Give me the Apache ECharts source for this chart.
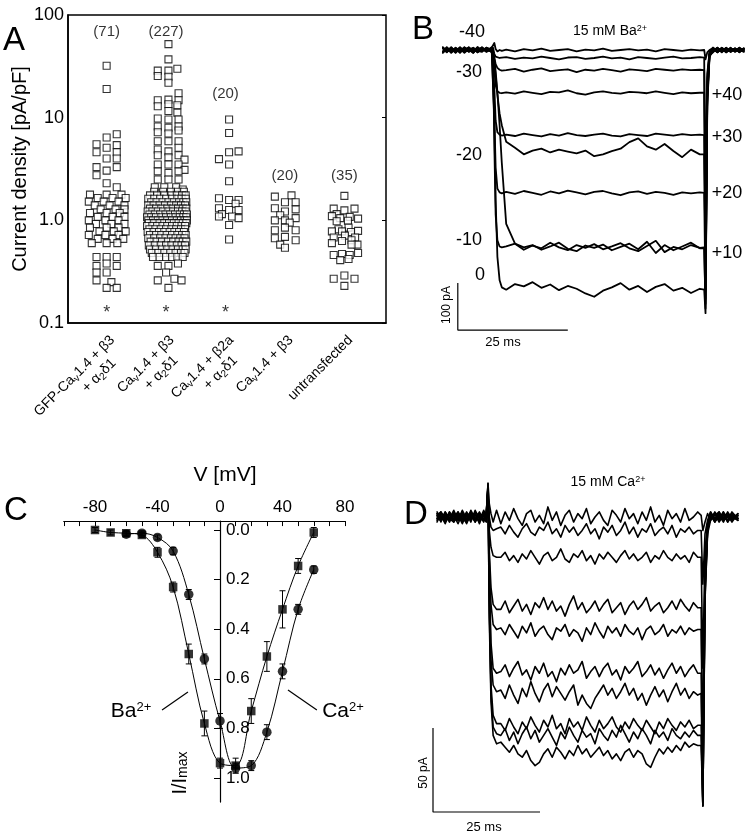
<!DOCTYPE html>
<html><head><meta charset="utf-8">
<script src="https://cdn.jsdelivr.net/npm/echarts@6/dist/echarts.min.js"></script>
<style>html,body{margin:0;padding:0;background:#fff}#c{width:751px;height:836px}</style>
</head><body><div id="c"></div>
<script>
// ---------- Panel A data ----------
const categoriesA = [
  'GFP-Ca{s|v}1.4 + β3\n+ α{s|2}δ1    ',
  'Ca{s|v}1.4 + β3\n+ α{s|2}δ1   ',
  'Ca{s|v}1.4 + β2a\n+ α{s|2}δ1   ',
  'Ca{s|v}1.4 + β3',
  'untransfected'
];
const countLabels = ['(71)', '(227)', '(20)', '(20)', '(35)'];
const countLabelY = [68, 68, 17, 2.7, 2.7];
const starGroups = [0, 1, 2];
const starY = 0.125;
const yTicksA = [0.1, 1, 10, 100];

// rows: [current density, [horizontal offsets within group]]
const group1Rows = [
  [32,[0]],[19,[0]],[6.9,[0.17]],[6.4,[0]],[5.5,[-0.17]],[5.4,[0.17]],[5.1,[0]],[4.6,[-0.17,0.17]],
  [4.0,[0,0.17]],[3.3,[-0.17,0.17]],[3.05,[0]],[2.75,[-0.17]],[2.3,[0]],[2.1,[0.17]],
  [1.78,[-0.28,0,0.25]],[1.65,[-0.15,0.1,0.32]],[1.52,[-0.3,-0.05,0.2]],[1.4,[-0.2,0.05,0.3]],
  [1.28,[-0.1,0.15,0.3]],[1.18,[-0.28,0,0.22]],[1.08,[-0.15,0.1,0.3]],[1.0,[-0.3,-0.02,0.2]],
  [0.92,[-0.18,0.08,0.3]],[0.85,[-0.28,0,0.2]],[0.78,[-0.12,0.12,0.32]],[0.72,[-0.3,-0.02,0.2]],
  [0.66,[-0.15,0.1,0.28]],[0.6,[-0.25,0,0.18]],
  [0.44,[-0.17,0,0.17]],[0.38,[0]],[0.36,[-0.17,0.17]],[0.31,[-0.17,0]],[0.26,[-0.17]],[0.25,[0.08]],[0.22,[0,0.17]]
];
const group2Rows = [
  [52,[0.04]],[37,[0.04]],[30,[0.19]],[28.7,[-0.14,0.04]],[25.5,[-0.14]],[25,[0.04]],[21.9,[0.04]],[17.3,[0.21]],
  [15,[0.04]],[14.8,[-0.14,0.21]],[13.5,[0.04]],[13.2,[0.19]],[12.9,[-0.14]],[11.6,[0.04]],[11.2,[0.19]],
  [9.8,[-0.14]],[9.6,[0.04,0.21]],[8.2,[-0.14,0.21]],[8.0,[0.04]],[7.5,[0.21]],[7.2,[-0.14]],[7.0,[0.04]],
  [5.9,[-0.14,0.04,0.21]],[5.1,[0.21]],[4.9,[-0.14]],[4.7,[0.04]],[4.3,[-0.14,0.21]],[4.1,[0.04]],[3.9,[0.31]],
  [3.5,[-0.14,0.04,0.21]],[3.1,[0.31]],[3.0,[-0.14,0.21]],[2.9,[0.04]],[2.5,[-0.14,0.04,0.21]],
  [2.1,[-0.19,-0.03,0.17]],[2.0,[0.28]],
  [1.9,[-0.2,-0.05,0.08,0.2,0.3]],
  [1.75,[-0.27,-0.15,-0.03,0.09,0.18,0.27,0.33]],
  [1.62,[-0.3,-0.2,-0.1,0.0,0.1,0.19,0.26,0.33]],
  [1.5,[-0.25,-0.16,-0.06,0.04,0.13,0.22,0.29,0.34]],
  [1.4,[-0.3,-0.21,-0.11,-0.02,0.08,0.17,0.25,0.32]],
  [1.3,[-0.27,-0.17,-0.08,0.02,0.11,0.2,0.28,0.34]],
  [1.22,[-0.31,-0.23,-0.14,-0.05,0.04,0.12,0.2,0.27,0.33]],
  [1.14,[-0.28,-0.19,-0.1,-0.01,0.07,0.15,0.23,0.3,0.35]],
  [1.07,[-0.32,-0.25,-0.17,-0.08,0.0,0.08,0.16,0.23,0.29,0.34]],
  [1.0,[-0.3,-0.22,-0.14,-0.06,0.02,0.1,0.18,0.25,0.31,0.35]],
  [0.94,[-0.29,-0.2,-0.11,-0.03,0.05,0.13,0.21,0.28,0.34]],
  [0.88,[-0.32,-0.23,-0.15,-0.06,0.02,0.1,0.18,0.26,0.32]],
  [0.82,[-0.28,-0.18,-0.09,0.0,0.09,0.17,0.25,0.32]],
  [0.77,[-0.31,-0.21,-0.12,-0.03,0.06,0.14,0.22,0.3]],
  [0.72,[-0.27,-0.17,-0.08,0.01,0.1,0.19,0.27,0.33]],
  [0.67,[-0.3,-0.2,-0.1,-0.01,0.08,0.16,0.24,0.31]],
  [0.62,[-0.26,-0.16,-0.07,0.03,0.12,0.21,0.28,0.34]],
  [0.57,[-0.29,-0.19,-0.09,0.0,0.09,0.18,0.26,0.32]],
  [0.52,[-0.27,-0.17,-0.07,0.02,0.11,0.2,0.28,0.33]],
  [0.48,[-0.24,-0.13,-0.03,0.07,0.16,0.25,0.31]],
  [0.44,[-0.22,-0.11,0.0,0.1,0.19,0.28]],
  [0.38,[0.2]],[0.36,[-0.14,0.04]],[0.31,[0]],[0.27,[0.14]],[0.26,[-0.14,0.26]],[0.22,[0.04]]
];
const group3Rows = [
  [9.6,[0.06]],[7.1,[0.06]],[4.7,[0.22]],[4.6,[0.06]],[3.95,[-0.11]],[3.5,[0.06]],[2.4,[0.06]],
  [1.64,[-0.11]],[1.58,[0.06,0.22]],[1.45,[0.17]],[1.31,[-0.11]],[1.26,[0.06,0.22]],[1.15,[-0.06]],
  [1.09,[-0.11,0.11]],[1.05,[0.22]],[0.9,[0.06]],[0.65,[0.06]]
];
const group4Rows = [
  [1.75,[0.11]],[1.7,[-0.17]],[1.5,[0,0.18]],[1.31,[-0.17]],[1.28,[0.18]],[1.22,[0]],[1.12,[-0.08]],
  [1.05,[0.18]],[1.0,[-0.17,0]],[0.95,[0.08]],[0.85,[0]],[0.8,[-0.17,0.18]],[0.69,[0]],[0.67,[-0.17]],
  [0.64,[0.18]],[0.58,[-0.08]],[0.54,[0]]
];
const group5Rows = [
  [1.73,[0]],[1.3,[-0.18,0.17]],[1.25,[0]],[1.15,[-0.13]],[1.1,[-0.21]],[1.08,[0.09]],[1.05,[-0.07]],
  [1.04,[0.23]],[0.99,[0.06]],[0.98,[-0.13]],[0.85,[0.07]],[0.82,[-0.1]],[0.79,[0.23]],[0.78,[-0.21,-0.04]],
  [0.77,[0.11]],[0.71,[0.01]],[0.68,[-0.18,0.18]],[0.64,[0.12]],[0.63,[-0.04]],[0.6,[-0.21]],
  [0.58,[0.22,0.12]],[0.48,[0.23]],[0.47,[-0.04]],[0.46,[-0.18,0.09]],[0.42,[0.07]],[0.41,[-0.07]],
  [0.29,[0]],[0.27,[-0.18,0.17]],[0.23,[0]]
];

// ---------- Panel B data (15 mM Ba2+), time in ms, current in pA ----------
const tB = [-11.4,-10.5,-9.5,-8.5,-7.5,-6.5,-5.5,-4.5,-3.5,-2.5,-1.5,-0.3, 0,0.3,0.6,1,1.5,2,
  3,5,7,9,11,13,15,17,19,21,23,25,27,29,31,33,35,37,39,41,43,45,47,
  48,48.3,48.7,49.2, 50,51,52,53,54,55,56,57];
const traceB_m40 = [5,-4,3,-6,4,-1,-3,5,-2,4,-3,5, 8,15,2,-3,0,-2, 1,-3,2,-1,3,-2,0,2,-3,1,-1,3,-2,0,2,-1,1,-3,2,0,-2,1,-1, 0,-20,-5,0, 4,-5,3,-4,2,-3,5,-1];
const traceB_p50 = [-4,6,-3,4,-5,2,5,-3,6,-2,3,-4, 5,-8,-14,-16,-17,-16, -15,-19,-16,-18,-14,-17,-20,-16,-15,-19,-17,-14,-18,-16,-20,-15,-17,-19,-16,-14,-18,-17,-15, -16,-420,-60,-5, 5,-3,4,-5,1,3,-4,2];
const traceB_m30 = [3,-5,5,-2,6,-4,1,-6,3,-1,5,-2, 0,-15,-30,-38,-42,-44, -43,-40,-46,-42,-39,-45,-43,-41,-47,-42,-44,-40,-43,-46,-41,-43,-45,-40,-42,-44,-41,-43,-42, -43,-300,-50,-5, -3,5,-2,4,-4,2,-1,3];
const traceB_p40 = [-5,3,-4,5,-2,6,-3,2,-5,4,-1,3, 0,-40,-75,-88,-91,-92, -90,-93,-88,-91,-94,-89,-90,-86,-92,-95,-90,-88,-91,-93,-89,-90,-92,-88,-91,-94,-90,-92,-91, -91,-480,-70,-8, 4,-4,2,-5,3,-2,5,-3];
const traceB_p30 = [4,-3,6,-4,3,-6,2,4,-2,-4,5,1, 0,-80,-150,-175,-180,-182, -180,-183,-178,-181,-184,-179,-182,-177,-181,-183,-180,-178,-182,-184,-179,-181,-183,-178,-180,-182,-179,-181,-180, -181,-510,-90,-10, -4,3,-5,4,-2,1,-3,4];
const traceB_m20 = [-6,2,-5,4,-3,5,-1,-4,6,-2,3,-5, 0,-25,-55,-95,-135,-160, -195,-208,-222,-214,-210,-218,-212,-216,-220,-214,-226,-222,-215,-210,-196,-188,-205,-212,-200,-215,-228,-212,-222, -222,-450,-80,-10, 5,-2,4,-3,5,-4,2,-1];
const traceB_p20 = [5,-2,4,-5,2,-4,6,-3,1,5,-4,2, 0,-140,-250,-295,-303,-305, -302,-306,-300,-304,-308,-301,-305,-299,-303,-307,-302,-300,-305,-309,-303,-301,-306,-302,-304,-308,-303,-305,-303, -304,-530,-100,-12, -5,4,-3,5,-4,3,-2,1];
const traceB_p10 = [-3,5,-6,2,-4,4,-2,3,-5,1,-3,6, 0,-200,-350,-405,-418,-420, -418,-412,-425,-416,-422,-410,-420,-426,-415,-421,-413,-424,-418,-411,-422,-428,-417,-406,-430,-419,-424,-415,-421, -420,-550,-110,-15, 3,-5,2,-2,4,-3,1,-4];
const traceB_m10 = [6,-3,2,-4,5,-2,3,-6,4,-1,2,-3, 0,-20,-45,-90,-160,-240, -370,-412,-420,-415,-425,-418,-410,-423,-428,-416,-421,-414,-426,-419,-412,-424,-408,-432,-415,-426,-418,-410,-422, -422,-540,-100,-12, -2,5,-4,3,-3,4,-5,2];
const traceB_0 = [-4,4,-2,3,-6,5,-4,1,-3,6,-2,0, 0,-150,-320,-440,-490,-505, -510,-498,-503,-494,-506,-499,-511,-502,-508,-518,-525,-512,-505,-496,-510,-502,-515,-504,-498,-512,-506,-517,-508, -510,-560,-120,-15, 3,-4,5,-1,-3,2,-4,3];
const scaleBarB = {t: -8, i: -596, dt: 25, di: 100};

// ---------- Panel C data ----------
const baV = [-80,-70,-60,-50,-40,-30,-20,-10,0,10,20,30,40,50,60];
const baMean = [0.0,0.01,0.013,0.02,0.09,0.23,0.50,0.78,0.94,0.95,0.73,0.51,0.32,0.145,0.01];
const baErr = [0.01,0.01,0.01,0.01,0.02,0.02,0.04,0.05,0.02,0.03,0.05,0.06,0.075,0.03,0.02];
const caV = [-60,-50,-40,-30,-20,-10,0,10,20,30,40,50,60];
const caMean = [0.017,0.013,0.03,0.085,0.26,0.52,0.77,0.96,0.95,0.815,0.57,0.32,0.16];
const caErr = [0.01,0.01,0.01,0.015,0.02,0.02,0.03,0.02,0.02,0.03,0.03,0.02,0.015];
const xTicksC = [-100,-90,-80,-70,-60,-50,-40,-30,-20,-10,0,10,20,30,40,50,60,70,80];
const xLabelsC = [-80,-40,0,40,80];
const yTicksC = [0,0.2,0.4,0.6,0.8,1.0];
const baPointer = [[-37.1,0.726],[-20.5,0.653]];
const caPointer = [[43.5,0.645],[62,0.726]];

// ---------- Panel D data (15 mM Ca2+) ----------
const tD = [-11.9,-11,-10,-9,-8,-7,-6,-5,-4,-3,-2,-1,-0.4, 0,0.3,0.7,1.2,2,
  3,4,5,6,7,8,9,10,11,12,13,14,15,16,17,18,19,20,21,22,23,24,25,26,27,28,29,30,31,32,33,34,35,36,37,38,39,40,41,42,43,44,45,46,47,48,49,
  49.8,50.2,50.7,51.3,52,53,54,55,56,57,58.4];
const traceD0 = [2,-3,3,-1,4,-2,1,-4,2,-1,3,-2,1, 20,8,2,-3,4,
  -4,3,-2,5,-1,-5,2,4,-3,1,-4,6,-2,3,-5,1,4,-3,2,-1,5,-4,0,3,-2,-5,4,1,-3,5,-1,2,-4,3,-2,6,-3,1,-5,4,-1,2,-3,5,-2,0,3,
  1,-8,-3,2,-2,3,-1,2,-3,1,-1];
const traceD1 = [-1,2,-2,3,-3,1,-1,2,-3,4,-1,2,-2, 18,0,-6,-8,-7,
  -6,-10,-5,-9,-12,-7,-4,-9,-11,-6,-8,-3,-10,-7,-12,-5,-9,-6,-11,-8,-4,-10,-7,-13,-6,-9,-5,-11,-8,-3,-10,-6,-12,-7,-9,-4,-11,-8,-6,-10,-5,-12,-7,-9,-6,-10,-8,
  -8,-40,-10,-2,3,-2,1,-3,2,-1,1];
const traceD2 = [3,-1,1,-3,2,-2,4,-1,1,-3,2,0,3, 15,-8,-18,-23,-24,
  -24,-21,-26,-23,-27,-22,-25,-20,-24,-28,-23,-21,-26,-24,-19,-25,-27,-22,-24,-20,-26,-23,-28,-22,-25,-21,-24,-27,-23,-20,-25,-22,-26,-24,-21,-27,-23,-25,-20,-24,-26,-22,-25,-23,-27,-21,-24,
  -24,-90,-20,-4,2,-1,3,-2,1,-3,2];
const traceD3 = [-2,1,-4,2,0,3,-3,1,-1,2,-4,3,-1, 18,-20,-42,-52,-55,
  -55,-50,-57,-53,-49,-56,-52,-58,-51,-54,-48,-55,-50,-56,-53,-59,-52,-47,-55,-51,-57,-54,-50,-56,-52,-49,-57,-54,-51,-58,-53,-50,-55,-52,-48,-56,-53,-51,-57,-54,-50,-55,-49,-53,-56,-51,-54,
  -54,-140,-30,-5,1,-3,2,0,-2,3,-1];
const traceD4 = [1,-2,2,-1,-3,2,-2,3,-1,1,-2,4,0, 16,-25,-52,-64,-67,
  -66,-70,-64,-68,-72,-65,-69,-63,-71,-67,-65,-70,-73,-66,-68,-64,-71,-67,-69,-74,-66,-70,-63,-68,-72,-65,-69,-66,-71,-64,-68,-70,-66,-73,-67,-65,-70,-68,-64,-71,-67,-69,-65,-70,-66,-68,-67,
  -67,-150,-35,-6,2,-2,-1,3,-2,1,0];
const traceD5 = [0,3,-1,1,-2,-1,3,-3,2,-2,1,-3,2, 20,-35,-75,-90,-93,
  -92,-88,-95,-90,-86,-94,-91,-97,-89,-93,-87,-95,-92,-98,-90,-94,-88,-93,-91,-86,-96,-92,-89,-95,-90,-87,-94,-91,-97,-89,-93,-90,-86,-95,-92,-88,-94,-90,-96,-91,-87,-93,-89,-95,-91,-88,-93,
  -93,-165,-40,-7,-1,2,-3,1,2,-2,1];
const traceD6 = [-3,2,0,-2,3,-1,1,-2,4,-1,-2,1,-1, 17,-40,-85,-100,-104,
  -103,-108,-100,-106,-111,-102,-107,-98,-105,-110,-103,-99,-107,-101,-105,-109,-104,-100,-112,-106,-111,-114,-108,-104,-100,-106,-102,-108,-104,-99,-106,-102,-109,-105,-112,-106,-101,-107,-103,-110,-104,-99,-106,-102,-108,-104,-106,
  -105,-170,-42,-8,3,-1,1,-2,3,-1,2];
const traceD7 = [2,0,-3,3,-1,1,-4,2,-2,3,0,-2,2, 19,-50,-100,-118,-123,
  -123,-127,-120,-125,-129,-122,-126,-119,-124,-128,-121,-125,-118,-126,-123,-129,-120,-125,-122,-127,-119,-124,-128,-121,-126,-123,-119,-125,-128,-122,-126,-120,-124,-127,-121,-125,-129,-122,-126,-120,-124,-127,-122,-125,-121,-126,-124,
  -124,-172,-45,-8,0,2,-2,3,-3,1,-2];
const traceD8 = [-1,-2,3,-2,1,-4,2,0,3,-3,2,-1,-3, 16,-55,-105,-125,-129,
  -130,-126,-133,-128,-135,-129,-125,-132,-127,-134,-130,-126,-131,-136,-128,-132,-125,-130,-134,-127,-131,-129,-135,-126,-130,-133,-127,-131,-124,-129,-134,-128,-132,-126,-130,-135,-127,-131,-128,-133,-126,-130,-132,-128,-131,-127,-130,
  -130,-172,-48,-9,2,-3,1,-1,2,0,-2];
const traceD9 = [1,3,-2,0,-2,3,-1,-3,1,2,-3,1,0, 18,-60,-110,-130,-135,
  -134,-137,-140,-136,-141,-143,-139,-145,-148,-146,-141,-138,-143,-137,-140,-144,-139,-142,-136,-141,-138,-143,-140,-137,-142,-139,-144,-141,-145,-140,-138,-143,-139,-141,-147,-149,-143,-138,-141,-137,-140,-136,-139,-134,-137,-135,-136,
  -136,-172,-50,-10,-2,1,3,-2,0,2,-1];
const scaleBarD = {t: -12.85, i: -175.6, dt: 25, di: 50};

// ---------- build ----------
const FONT = '"Liberation Sans", Arial, Helvetica, sans-serif';
const rowsToPoints = (rows, gi) => {
  const out = [];
  rows.forEach(([v, dxs]) => dxs.forEach(dx => out.push([gi + dx, v])));
  return out;
};
const groupsA = [group1Rows, group2Rows, group3Rows, group4Rows, group5Rows];
const tracesB = [traceB_m40, traceB_p50, traceB_m30, traceB_p40, traceB_p30, traceB_m20, traceB_p20, traceB_p10, traceB_m10, traceB_0];
const tracesD = [traceD0, traceD1, traceD2, traceD3, traceD4, traceD5, traceD6, traceD7, traceD8, traceD9];

const richFor = (size) => ({
  s: {fontSize: Math.round(size * 0.7), fontFamily: FONT, color: '#000', verticalAlign: 'bottom'},
  sup: {fontSize: Math.round(size * 0.62), fontFamily: FONT, color: '#000', verticalAlign: 'top'}
});
const txt = (text, x, y, size, extra) => Object.assign({
  type: 'text', x: x, y: y, silent: true,
  style: {text: text, fontSize: size, fontFamily: FONT, fill: '#000', align: 'center', verticalAlign: 'middle', rich: richFor(size)}
}, extra || {});

const traceSeries = (traces, times, xi, yi, w) => traces.map(vals => ({
  type: 'line', xAxisIndex: xi, yAxisIndex: yi, symbol: 'none', silent: true, clip: false,
  data: times.map((t, i) => [t, vals[i]]),
  lineStyle: {color: '#000', width: w, join: 'round', cap: 'round'}
}));
const scaleSeries = (sb, xi, yi) => ({
  type: 'line', xAxisIndex: xi, yAxisIndex: yi, symbol: 'none', silent: true, clip: false,
  data: [[sb.t, sb.i + sb.di], [sb.t, sb.i], [sb.t + sb.dt, sb.i]],
  lineStyle: {color: '#000', width: 1.2}
});
const errSeries = (vs, means, errs) => ({
  type: 'custom', xAxisIndex: 2, yAxisIndex: 3, silent: true, clip: false, z: 1,
  data: vs.map((v, i) => [v, means[i], errs[i]]),
  encode: {x: 0, y: 1},
  renderItem: function (params, api) {
    const x = api.value(0), y = api.value(1), e = api.value(2);
    const p1 = api.coord([x, y - e]), p2 = api.coord([x, y + e]);
    const w = 3, st = {stroke: '#000', lineWidth: 1};
    return {type: 'group', children: [
      {type: 'line', shape: {x1: p1[0], y1: p1[1], x2: p2[0], y2: p2[1]}, style: st},
      {type: 'line', shape: {x1: p1[0] - w, y1: p1[1], x2: p1[0] + w, y2: p1[1]}, style: st},
      {type: 'line', shape: {x1: p2[0] - w, y1: p2[1], x2: p2[0] + w, y2: p2[1]}, style: st}
    ]};
  }
});

const blackLine = {color: '#000', width: 1.5};
const gridC = {left: 63.75, top: 521.07, width: 281.25, height: 281};
const zeroOffsetC = -(0 - (-100)) / 180 * gridC.width; // y axis drawn at V = 0
const option = {
  animation: false,
  backgroundColor: '#fff',
  grid: [
    {left: 68, top: 15, width: 318, height: 308, show: true, borderColor: '#000', borderWidth: 1.5, outerBoundsMode: 'none'},
    {left: 440.2, top: 31.2, width: 308, height: 300.8, outerBoundsMode: 'none'},
    Object.assign({outerBoundsMode: 'none'}, gridC),
    {left: 428.08, top: 475, width: 316.72, height: 344.4, outerBoundsMode: 'none'}
  ],
  xAxis: [
    {gridIndex: 0, type: 'value', min: -0.65, max: 4.7,
      axisLine: {show: true, onZero: false, lineStyle: blackLine}, axisTick: {show: false}, splitLine: {show: false},
      axisLabel: {customValues: [0, 1, 2, 3, 4], formatter: v => categoriesA[Math.round(v)], rotate: 45, margin: 9,
        verticalAlign: 'top', fontSize: 14, fontFamily: FONT, color: '#000', lineHeight: 17, rich: richFor(14)}},
    {gridIndex: 1, type: 'value', min: -12, max: 58, show: false},
    {gridIndex: 2, type: 'value', min: -100, max: 80, position: 'top',
      axisLine: {show: true, onZero: false, lineStyle: {color: '#000', width: 1.2}},
      axisTick: {show: true, inside: true, length: 5, customValues: xTicksC, lineStyle: {color: '#000', width: 1}},
      axisLabel: {customValues: xLabelsC, margin: 5, fontSize: 17, fontFamily: FONT, color: '#000'},
      splitLine: {show: false}},
    {gridIndex: 3, type: 'value', min: -14, max: 60, show: false}
  ],
  yAxis: [
    {gridIndex: 0, type: 'log', logBase: 10, min: 0.1, max: 100,
      axisLine: {show: true, onZero: false, lineStyle: blackLine}, axisTick: {show: false}, splitLine: {show: false},
      axisLabel: {customValues: yTicksA, formatter: v => (v >= 10 ? String(Math.round(v)) : v.toFixed(1)), fontSize: 18, fontFamily: FONT, color: '#000', margin: 4},
      name: 'Current density [pA/pF]', nameLocation: 'middle', nameGap: 38,
      nameTextStyle: {fontSize: 20, fontFamily: FONT, color: '#000'}},
    {gridIndex: 0, type: 'log', logBase: 10, min: 0.1, max: 100, position: 'right',
      axisLine: {show: false, onZero: false}, axisLabel: {show: false}, splitLine: {show: false},
      axisTick: {show: true, inside: true, length: 4, lineStyle: {color: '#000'}}},
    {gridIndex: 1, type: 'value', min: -600, max: 40, show: false},
    {gridIndex: 2, type: 'value', inverse: true, min: -0.036, max: 1.097, position: 'left', offset: zeroOffsetC,
      axisLine: {show: true, onZero: false, lineStyle: {color: '#000', width: 1.2}},
      axisTick: {show: true, inside: false, length: 6, customValues: yTicksC, lineStyle: {color: '#000'}},
      axisLabel: {inside: true, margin: 6, customValues: yTicksC, formatter: v => v.toFixed(1), fontSize: 17, fontFamily: FONT, color: '#000'},
      splitLine: {show: false}},
    {gridIndex: 3, type: 'value', min: -180, max: 25, show: false}
  ],
  series: [].concat(
    groupsA.map((rows, gi) => ({
      type: 'scatter', xAxisIndex: 0, yAxisIndex: 0, symbol: 'rect', symbolSize: 7, silent: true,
      data: rowsToPoints(rows, gi),
      itemStyle: {color: '#fff', borderColor: '#000', borderWidth: 1.1}
    })),
    [{
      type: 'scatter', xAxisIndex: 0, yAxisIndex: 0, symbolSize: 1, silent: true,
      itemStyle: {color: 'rgba(0,0,0,0)'},
      data: countLabels.map((t, i) => ({value: [i, countLabelY[i]], label: {formatter: t}})),
      label: {show: true, position: 'inside', fontSize: 15, fontFamily: FONT, color: '#000'}
    }, {
      type: 'scatter', xAxisIndex: 0, yAxisIndex: 0, symbolSize: 1, silent: true,
      itemStyle: {color: 'rgba(0,0,0,0)'},
      data: starGroups.map(g => [g, starY]),
      label: {show: true, position: 'inside', formatter: '*', fontSize: 18, fontFamily: FONT, color: '#000'}
    }],
    traceSeries(tracesB, tB, 1, 2, 1.8),
    [scaleSeries(scaleBarB, 1, 2)],
    traceSeries(tracesD, tD, 3, 4, 1.6),
    [scaleSeries(scaleBarD, 3, 4)],
    [
      {type: 'line', xAxisIndex: 2, yAxisIndex: 3, symbol: 'none', smooth: 0.35, silent: true, z: 1,
        data: baV.map((v, i) => [v, baMean[i]]), lineStyle: {color: '#000', width: 1}},
      {type: 'line', xAxisIndex: 2, yAxisIndex: 3, symbol: 'none', smooth: 0.35, silent: true, z: 1,
        data: caV.map((v, i) => [v, caMean[i]]), lineStyle: {color: '#000', width: 1}},
      errSeries(baV, baMean, baErr),
      errSeries(caV, caMean, caErr),
      {type: 'scatter', xAxisIndex: 2, yAxisIndex: 3, symbol: 'rect', symbolSize: 8.5, silent: true, z: 3,
        data: baV.map((v, i) => [v, baMean[i]]), itemStyle: {color: '#000'}},
      {type: 'scatter', xAxisIndex: 2, yAxisIndex: 3, symbol: 'circle', symbolSize: 9.5, silent: true, z: 3,
        data: caV.map((v, i) => [v, caMean[i]]), itemStyle: {color: '#000'}},
      {type: 'line', xAxisIndex: 2, yAxisIndex: 3, symbol: 'none', silent: true, data: baPointer, lineStyle: {color: '#000', width: 1.2}},
      {type: 'line', xAxisIndex: 2, yAxisIndex: 3, symbol: 'none', silent: true, data: caPointer, lineStyle: {color: '#000', width: 1.2}}
    ]
  ),
  graphic: [
    txt('A', 14, 41, 33),
    txt('B', 423, 30, 33),
    txt('C', 16, 511, 33),
    txt('D', 416, 515, 33),
    txt('15 mM Ba{sup|2+}', 610, 31, 14),
    txt('-40', 472, 32, 18), txt('-30', 469, 72, 18), txt('-20', 469, 155, 18), txt('-10', 469, 240, 18), txt('0', 480, 275, 18),
    txt('+40', 727, 95, 18), txt('+30', 727, 137, 18), txt('+20', 727, 193, 18), txt('+10', 727, 253, 18),
    txt('100 pA', 447, 305, 12, {rotation: Math.PI / 2}),
    txt('25 ms', 503, 342, 13),
    txt('V [mV]', 225, 475, 21),
    txt('I/I{s|max}', 180, 773, 20, {rotation: Math.PI / 2}),
    txt('Ba{sup|2+}', 131, 711, 21),
    txt('Ca{sup|2+}', 343, 711, 21),
    txt('15 mM Ca{sup|2+}', 608, 482, 14),
    txt('50 pA', 424, 773, 12, {rotation: Math.PI / 2}),
    txt('25 ms', 484, 827, 13)
  ]
};
const chart = echarts.init(document.getElementById('c'), null, {renderer: 'canvas'});
chart.setOption(option);
</script></body></html>
